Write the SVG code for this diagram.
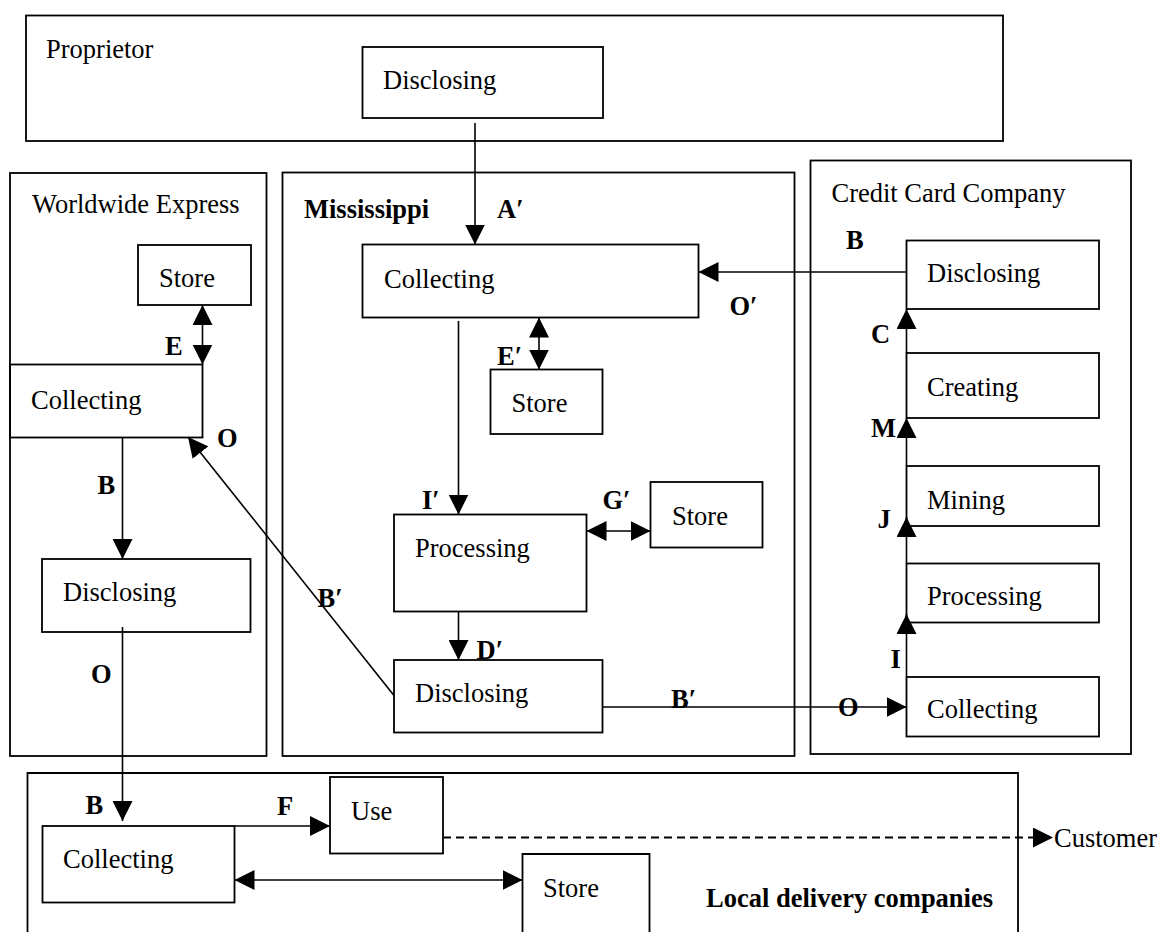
<svg xmlns="http://www.w3.org/2000/svg" width="1167" height="932" viewBox="0 0 1167 932">
<style>
.box{fill:none;stroke:#000;stroke-width:1.8}
.t{font-family:"Liberation Serif","DejaVu Serif",serif;font-size:26.5px;fill:#000}
.b{font-family:"Liberation Serif","DejaVu Serif",serif;font-size:26.5px;font-weight:bold;fill:#000}
.c{fill:none;stroke:#000;stroke-width:1.6}
.a{marker-end:url(#ah)}
.d{marker-start:url(#ah);marker-end:url(#ah)}
.dash{stroke-dasharray:8 5;stroke-width:1.9}
</style>
<defs>
<marker id="ah" markerUnits="userSpaceOnUse" markerWidth="20" markerHeight="20" refX="20" refY="10" orient="auto-start-reverse" viewBox="0 0 20 20">
<path d="M0,0 L20,10 L0,20 z" fill="#000"/>
</marker>
</defs>
<rect width="1167" height="932" fill="#fff"/>

<g id="proprietor">
<rect class="box" x="26" y="15.5" width="977" height="125.5"/>
<text class="t" x="46" y="58">Proprietor</text>
</g>
<g id="prop-disclosing">
<rect class="box" x="362.5" y="47" width="240.5" height="71"/>
<text class="t" x="383" y="89">Disclosing</text>
</g>

<g id="worldwide">
<rect class="box" x="10" y="173" width="256.5" height="583"/>
<text class="t" x="32" y="213">Worldwide Express</text>
</g>
<g id="we-store">
<rect class="box" x="138" y="245" width="113" height="60"/>
<text class="t" x="159" y="287">Store</text>
</g>
<g id="we-collecting">
<rect class="box" x="10" y="364.5" width="192.5" height="73"/>
<text class="t" x="31" y="409">Collecting</text>
</g>
<g id="we-disclosing">
<rect class="box" x="42" y="559" width="208.5" height="73"/>
<text class="t" x="63" y="601">Disclosing</text>
</g>

<g id="mississippi">
<rect class="box" x="282.5" y="172.5" width="512" height="583.5"/>
<text class="b" x="304" y="218">Mississippi</text>
</g>
<g id="mi-collecting">
<rect class="box" x="362.5" y="244.5" width="336" height="73"/>
<text class="t" x="384" y="288">Collecting</text>
</g>
<g id="mi-store1">
<rect class="box" x="490.5" y="369.5" width="112" height="64.5"/>
<text class="t" x="511.5" y="411.5">Store</text>
</g>
<g id="mi-processing">
<rect class="box" x="394" y="514.5" width="192.5" height="97"/>
<text class="t" x="415" y="557">Processing</text>
</g>
<g id="mi-store2">
<rect class="box" x="650.5" y="482" width="112" height="65.5"/>
<text class="t" x="672" y="525">Store</text>
</g>
<g id="mi-disclosing">
<rect class="box" x="394" y="660" width="208.5" height="72.5"/>
<text class="t" x="415" y="702">Disclosing</text>
</g>

<g id="creditcard">
<rect class="box" x="810.5" y="160.5" width="320.5" height="593.5"/>
<text class="t" x="831.5" y="202">Credit Card Company</text>
</g>
<g id="cc-disclosing">
<rect class="box" x="906.5" y="240.5" width="192.5" height="68.5"/>
<text class="t" x="927" y="282">Disclosing</text>
</g>
<g id="cc-creating">
<rect class="box" x="906.5" y="353" width="192.5" height="65"/>
<text class="t" x="927" y="396">Creating</text>
</g>
<g id="cc-mining">
<rect class="box" x="906.5" y="466" width="192.5" height="60"/>
<text class="t" x="927" y="509">Mining</text>
</g>
<g id="cc-processing">
<rect class="box" x="906.5" y="563.5" width="192.5" height="59"/>
<text class="t" x="927" y="605">Processing</text>
</g>
<g id="cc-collecting">
<rect class="box" x="906.5" y="677" width="192.5" height="59.5"/>
<text class="t" x="927" y="718">Collecting</text>
</g>

<g id="local">
<path class="box" d="M27.5,940 V773 H1018 V940"/>
<text class="b" x="706" y="907">Local delivery companies</text>
</g>
<g id="lo-collecting">
<rect class="box" x="42.5" y="826" width="192" height="76.5"/>
<text class="t" x="63" y="868">Collecting</text>
</g>
<g id="lo-use">
<rect class="box" x="330" y="777" width="113" height="76.5"/>
<text class="t" x="351" y="820">Use</text>
</g>
<g id="lo-store">
<path class="box" d="M522.5,940 V854 H649.5 V940"/>
<text class="t" x="543" y="897">Store</text>
</g>
<g id="customer">
<text class="t" x="1054" y="847">Customer</text>
</g>

<g id="connectors">
<line class="c a" x1="475" y1="123" x2="475" y2="244.5"/>
<line class="c d" x1="202.5" y1="305" x2="202.5" y2="364.5"/>
<line class="c a" x1="122.5" y1="437.5" x2="122.5" y2="559"/>
<line class="c a" x1="394" y1="695.5" x2="188" y2="437"/>
<line class="c a" x1="122.5" y1="627" x2="122.5" y2="821"/>
<line class="c a" x1="906.5" y1="272" x2="698.5" y2="272"/>
<line class="c a" x1="458.5" y1="321" x2="458.5" y2="514.5"/>
<line class="c d" x1="539" y1="317.5" x2="539" y2="369.5"/>
<line class="c d" x1="586.5" y1="531" x2="650.5" y2="531"/>
<line class="c a" x1="458.5" y1="611.5" x2="458.5" y2="660"/>
<line class="c a" x1="602.5" y1="707" x2="906.5" y2="707"/>
<line class="c a" x1="906.5" y1="353" x2="906.5" y2="309"/>
<line class="c a" x1="906.5" y1="466" x2="906.5" y2="418"/>
<line class="c a" x1="906.5" y1="563.5" x2="906.5" y2="517"/>
<line class="c a" x1="906.5" y1="677" x2="906.5" y2="614"/>
<line class="c a" x1="234.5" y1="826" x2="330" y2="826"/>
<line class="c d" x1="234.5" y1="880" x2="522.5" y2="880"/>
<line class="c a dash" x1="443" y1="837.5" x2="1053" y2="837.5"/>
<text class="b" x="497" y="218">A′</text>
<text class="b" x="165" y="355">E</text>
<text class="b" x="217" y="447">O</text>
<text class="b" x="97.5" y="494">B</text>
<text class="b" x="91" y="683">O</text>
<text class="b" x="317.5" y="607">B′</text>
<text class="b" x="729.5" y="315">O′</text>
<text class="b" x="497" y="365">E′</text>
<text class="b" x="422" y="509">I′</text>
<text class="b" x="602.5" y="509">G′</text>
<text class="b" x="476.5" y="658.5">D′</text>
<text class="b" x="671" y="708">B′</text>
<text class="b" x="838" y="716">O</text>
<text class="b" x="846" y="249">B</text>
<text class="b" x="871" y="343">C</text>
<text class="b" x="871" y="437">M</text>
<text class="b" x="877.5" y="528">J</text>
<text class="b" x="890.5" y="668">I</text>
<text class="b" x="85.5" y="814">B</text>
<text class="b" x="277" y="815">F</text>
</g>
</svg>
